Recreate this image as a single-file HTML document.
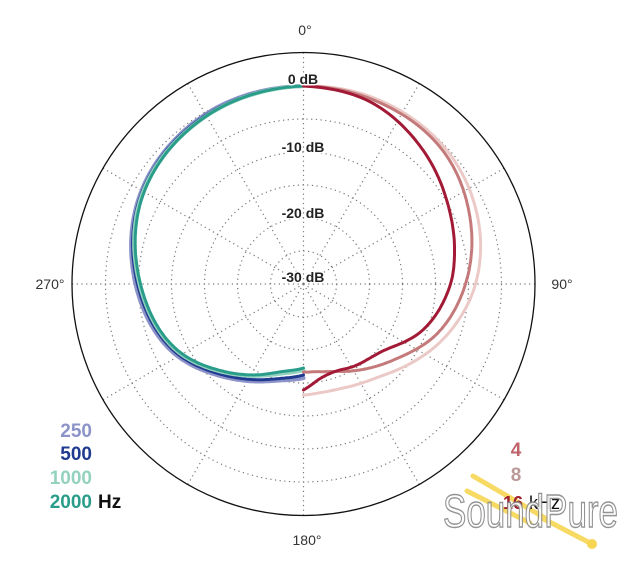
<!DOCTYPE html>
<html><head><meta charset="utf-8"><style>
html,body{margin:0;padding:0;background:#fff;width:640px;height:569px;overflow:hidden}
svg{display:block}
text{font-family:"Liberation Sans",sans-serif}
</style></head><body>
<svg id="s" width="640" height="569" viewBox="0 0 640 569" xmlns="http://www.w3.org/2000/svg">
<g fill="none" stroke="#777" stroke-width="1.2" stroke-dasharray="1.2 3.5">
<circle cx="303.5" cy="284" r="33"/><circle cx="303.5" cy="284" r="66"/><circle cx="303.5" cy="284" r="99"/>
<circle cx="303.5" cy="284" r="132"/><circle cx="303.5" cy="284" r="165"/><circle cx="303.5" cy="284" r="198"/>
<g id="spokes"></g>
</g>
<circle cx="303.5" cy="284" r="231.5" fill="none" stroke="#111" stroke-width="1.3"/>
<g id="curves" fill="none" stroke-linecap="round" stroke-linejoin="round"></g>
<g font-size="14" font-weight="bold" fill="#222" text-anchor="middle">
<text x="303" y="84" stroke="#fff" stroke-width="3" paint-order="stroke">0 dB</text>
<text x="303" y="152" stroke="#fff" stroke-width="3" paint-order="stroke">-10 dB</text>
<text x="303" y="218" stroke="#fff" stroke-width="3" paint-order="stroke">-20 dB</text>
<text x="303" y="282" stroke="#fff" stroke-width="3" paint-order="stroke">-30 dB</text>
</g>
<g font-size="14" fill="#333" text-anchor="middle">
<text x="305" y="35">0°</text>
<text x="307" y="545">180°</text>
<text x="50" y="289">270°</text>
<text x="562" y="289">90°</text>
</g>
<g font-size="19" font-weight="bold" text-anchor="end">
<text x="92" y="437" fill="#8c93c8">250</text>
<text x="92" y="460" fill="#1f3a8f">500</text>
<text x="92" y="484" fill="#94d2bf">1000</text>
<text x="92" y="508" fill="#2a9d8a">2000</text>
</g>
<text x="98" y="508" font-size="19" font-weight="bold" fill="#111">Hz</text>
<g font-size="19" font-weight="bold" text-anchor="middle">
<text x="516" y="456" fill="#c0646b">4</text>
<text x="516" y="481" fill="#bb9898">8</text>
</g>
<g stroke="#f7d654" stroke-width="5" stroke-linecap="round" fill="none" opacity="0.9">
<line x1="473" y1="476" x2="545" y2="518"/>
<line x1="467" y1="491" x2="530" y2="523"/>
<line x1="540" y1="517" x2="592" y2="544"/>
</g>
<circle cx="592" cy="544" r="5" fill="#f7d654"/>
<text x="503" y="509" font-size="18" font-weight="bold" fill="#a02030">16</text>
<text x="529" y="509" font-size="18" fill="#111">kHz</text>
<text x="443" y="527" font-size="46" fill="#fff" stroke="#888" stroke-width="1.4" textLength="175" lengthAdjust="spacingAndGlyphs" opacity="0.9" style="font-family:'Liberation Sans Narrow','Liberation Sans',sans-serif">SoundPure</text>
</svg>
<script>
var cx=303.5,cy=284,NS="http://www.w3.org/2000/svg";
var sp=document.getElementById("spokes");
for(var a=0;a<360;a+=30){var t=a*Math.PI/180;var l=document.createElementNS(NS,"line");
l.setAttribute("x1",cx);l.setAttribute("y1",cy);l.setAttribute("x2",cx+231*Math.sin(t));l.setAttribute("y2",cy-231*Math.cos(t));sp.appendChild(l);}
function interp(k,th){for(var i=0;i<k.length-1;i++){if(th>=k[i][0]&&th<=k[i+1][0]){
var p0=k[Math.max(i-1,0)],p1=k[i],p2=k[i+1],p3=k[Math.min(i+2,k.length-1)];
var u=(th-p1[0])/(p2[0]-p1[0]);var m1=(p2[1]-p0[1])/(p2[0]-p0[0]||1)*(p2[0]-p1[0]);var m2=(p3[1]-p1[1])/(p3[0]-p1[0]||1)*(p2[0]-p1[0]);
var u2=u*u,u3=u2*u;return (2*u3-3*u2+1)*p1[1]+(u3-2*u2+u)*m1+(-2*u3+3*u2)*p2[1]+(u3-u2)*m2;}}return k[k.length-1][1];}
function curve(k,side,col,w){var d="";for(var th=0;th<=180;th+=1){var r=interp(k,th);var t=th*Math.PI/180;
var x=cx+side*r*Math.sin(t),y=cy-r*Math.cos(t);d+=(th?"L":"M")+x.toFixed(1)+" "+y.toFixed(1);}
var p=document.createElementNS(NS,"path");p.setAttribute("d",d);p.setAttribute("stroke",col);p.setAttribute("stroke-width",w);document.getElementById("curves").appendChild(p);}
curve([[0,198],[30,196],[60,187],[90,168],[116,149],[137,125],[150,112],[165,100],[180,94]],-1,"#8c93c8",4);
curve([[0,198],[30,195],[60,186],[90,166],[116,147],[137,123],[150,110],[165,98],[180,91]],-1,"#1f3a8f",3);
curve([[0,198],[30,194],[60,185],[90,164],[116,145],[137,120],[150,106],[165,93],[180,86]],-1,"#94d2bf",4);
curve([[0,198],[30,194],[60,184],[90,163],[116,144],[137,119],[150,105],[165,91],[180,84]],-1,"#2a9d8a",3);
curve([[0,198],[20,199],[47,196],[70,186],[90,172],[107,155],[138,122],[157,112],[170,110],[180,111]],1,"#ebc9c6",3);
curve([[0,198],[20,197],[46,193],[70,178],[90,162],[110,143],[130,118],[157,95],[170,89],[180,88]],1,"#c47a7a",3);
curve([[0,198],[20,194],[41,180],[61,165],[77,155],[90,147],[111,128],[130,104],[150,96],[160,93],[170,96],[180,106]],1,"#a21a35",3);
</script>
</body></html>
